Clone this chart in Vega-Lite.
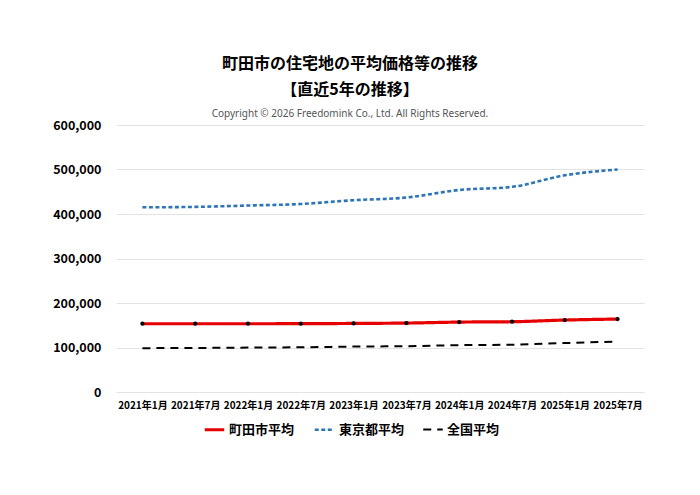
{
  "$schema": "https://vega.github.io/schema/vega-lite/v6.json",
  "width": 528,
  "height": 267,
  "autosize": "none",
  "padding": {"left": 116, "top": 125, "right": 56, "bottom": 103},
  "background": "white",
  "config": {
    "font": "Noto Sans CJK JP",
    "view": {"stroke": null}
  },
  "title": {
    "text": ["町田市の住宅地の平均価格等の推移", "【直近5年の推移】"],
    "subtitle": "Copyright © 2026 Freedomink Co., Ltd. All Rights Reserved.",
    "fontSize": 16,
    "fontWeight": "bold",
    "lineHeight": 26,
    "subtitleFontSize": 10,
    "subtitleFont": "Noto Sans",
    "subtitleColor": "#555555",
    "subtitleFontWeight": "normal",
    "subtitlePadding": 11,
    "anchor": "middle",
    "dx": -30,
    "offset": 0,
    "color": "black"
  },
  "data": {
    "values": [
      {"時点": "2021年1月", "系列": "町田市平均", "価格": 153400},
      {"時点": "2021年7月", "系列": "町田市平均", "価格": 153400},
      {"時点": "2022年1月", "系列": "町田市平均", "価格": 153400},
      {"時点": "2022年7月", "系列": "町田市平均", "価格": 153500},
      {"時点": "2023年1月", "系列": "町田市平均", "価格": 154100},
      {"時点": "2023年7月", "系列": "町田市平均", "価格": 154900},
      {"時点": "2024年1月", "系列": "町田市平均", "価格": 157100},
      {"時点": "2024年7月", "系列": "町田市平均", "価格": 157900},
      {"時点": "2025年1月", "系列": "町田市平均", "価格": 161700},
      {"時点": "2025年7月", "系列": "町田市平均", "価格": 163900},
      {"時点": "2021年1月", "系列": "東京都平均", "価格": 415000},
      {"時点": "2021年7月", "系列": "東京都平均", "価格": 416000},
      {"時点": "2022年1月", "系列": "東京都平均", "価格": 419000},
      {"時点": "2022年7月", "系列": "東京都平均", "価格": 422500},
      {"時点": "2023年1月", "系列": "東京都平均", "価格": 431000},
      {"時点": "2023年7月", "系列": "東京都平均", "価格": 437000},
      {"時点": "2024年1月", "系列": "東京都平均", "価格": 454000},
      {"時点": "2024年7月", "系列": "東京都平均", "価格": 461000},
      {"時点": "2025年1月", "系列": "東京都平均", "価格": 487000},
      {"時点": "2025年7月", "系列": "東京都平均", "価格": 500000},
      {"時点": "2021年1月", "系列": "全国平均", "価格": 98500},
      {"時点": "2021年7月", "系列": "全国平均", "価格": 99000},
      {"時点": "2022年1月", "系列": "全国平均", "価格": 99800},
      {"時点": "2022年7月", "系列": "全国平均", "価格": 100600},
      {"時点": "2023年1月", "系列": "全国平均", "価格": 102000},
      {"時点": "2023年7月", "系列": "全国平均", "価格": 103000},
      {"時点": "2024年1月", "系列": "全国平均", "価格": 105200},
      {"時点": "2024年7月", "系列": "全国平均", "価格": 106300},
      {"時点": "2025年1月", "系列": "全国平均", "価格": 110000},
      {"時点": "2025年7月", "系列": "全国平均", "価格": 113500}
    ]
  },
  "encoding": {
    "x": {
      "field": "時点",
      "type": "ordinal",
      "sort": null,
      "scale": {"type": "point", "padding": 0.5},
      "axis": {
        "title": null,
        "labelAngle": 0,
        "labelFontSize": 10,
        "labelFontWeight": "bold",
        "labelColor": "black",
        "labelPadding": 8,
        "ticks": false,
        "domain": false,
        "grid": false
      }
    },
    "y": {
      "field": "価格",
      "type": "quantitative",
      "scale": {"domain": [0, 600000]},
      "axis": {
        "title": null,
        "values": [0, 100000, 200000, 300000, 400000, 500000, 600000],
        "format": ",d",
        "labelFontSize": 12.5,
        "labelFontWeight": "bold",
        "labelColor": "black",
        "labelPadding": 15,
        "ticks": false,
        "domain": false,
        "gridColor": "#e3e3e3"
      }
    }
  },
  "layer": [
    {
      "mark": {"type": "line", "interpolate": "monotone"},
      "encoding": {
        "color": {
          "field": "系列",
          "type": "nominal",
          "scale": {
            "domain": ["町田市平均", "東京都平均", "全国平均"],
            "range": ["#e60000", "#2e75b6", "#000000"]
          },
          "legend": {
            "title": null,
            "orient": "none",
            "direction": "horizontal",
            "legendX": 87,
            "legendY": 293,
            "symbolType": "stroke",
            "symbolSize": 380,
            "symbolStrokeWidth": 2.5,
            "labelFontSize": 13,
            "labelFontWeight": "bold",
            "labelColor": "black",
            "labelOffset": 3,
            "columnPadding": 14
          }
        },
        "strokeDash": {
          "field": "系列",
          "type": "nominal",
          "scale": {
            "domain": ["町田市平均", "東京都平均", "全国平均"],
            "range": [[1, 0], [4, 2.5], [8, 6]]
          },
          "legend": null
        },
        "strokeWidth": {
          "field": "系列",
          "type": "nominal",
          "scale": {
            "domain": ["町田市平均", "東京都平均", "全国平均"],
            "range": [3.2, 2, 2]
          },
          "legend": null
        }
      }
    },
    {
      "transform": [{"filter": "datum['系列'] == '町田市平均'"}],
      "mark": {"type": "point", "filled": true, "color": "black", "size": 18, "opacity": 1}
    }
  ]
}
